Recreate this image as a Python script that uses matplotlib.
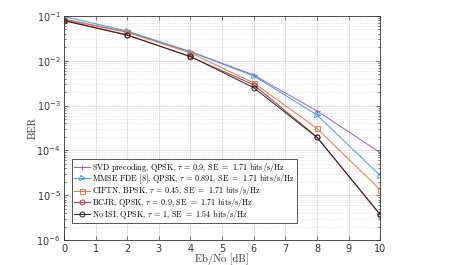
'''
BER vs Eb/No
'''

import numpy as np
import matplotlib
matplotlib.use("Agg")
import matplotlib.pyplot as plt
from matplotlib.ticker import LogLocator, NullFormatter

plt.rcParams['mathtext.fontset'] = 'cm'
plt.rcParams['axes.unicode_minus'] = False

# Data
ebno = [0, 2, 4, 6, 8, 10]
ber_svd = [0.085, 0.044, 0.016, 0.0048, 7.6e-4, 8.9e-5]
ber_mmse = [0.097, 0.046, 0.0158, 0.0046, 6.2e-4, 2.75e-5]
ber_ciftn = [0.083, 0.043, 0.015, 0.0032, 3.1e-4, 1.32e-5]
ber_bcjr = [0.080, 0.038, 0.0122, 0.0029, 2.0e-4, 3.6e-6]
ber_noisi = [0.078, 0.037, 0.0125, 0.0025, 1.95e-4, 3.75e-6]

labels = [
    r'SVD precoding, QPSK, $\tau\,=\,0.9$, SE $=$ 1.71 bits/s/Hz',
    r'MMSE FDE [8], QPSK, $\tau\,=\,0.891$, SE $=$ 1.71 bits/s/Hz',
    r'CIFTN, BPSK, $\tau\,=\,0.45$, SE $=$ 1.71 bits/s/Hz',
    r'BCJR, QPSK, $\tau\,=\,0.9$, SE $=$ 1.71 bits/s/Hz',
    r'No ISI, QPSK, $\tau\,=\,1$, SE $=$ 1.54 bits/s/Hz',
]
series = [ber_svd, ber_mmse, ber_ciftn, ber_bcjr, ber_noisi]
colors = ['#a35bc2', '#3d9ddb', '#e8763c', '#b8303f', '#222222']
markers = ['+', '>', 's', 'o', 'o']

fig = plt.figure(figsize=(4.57, 2.65), dpi=100)
ax = fig.add_axes([0.140, 0.094, 0.692, 0.846])

for y, lab, c, m in zip(series, labels, colors, markers):
    ax.semilogy(ebno, y, color=c, marker=m, markersize=3.6, markerfacecolor='none',
                markeredgewidth=0.7, linewidth=0.7, label=lab)

ax.set_xlim(0, 10)
ax.set_ylim(1e-6, 1e-1)
ax.set_xticks(range(0, 11))
ax.yaxis.set_major_locator(LogLocator(base=10, numticks=10))
ax.yaxis.set_minor_locator(LogLocator(base=10, subs=np.arange(2, 10), numticks=20))
ax.yaxis.set_minor_formatter(NullFormatter())

ax.grid(True, which='major', color='#dddddd', linewidth=0.6)
ax.grid(True, which='minor', axis='y', color='#dddddd', linestyle=':', linewidth=0.6)
ax.set_axisbelow(True)

ax.tick_params(which='both', direction='in', top=True, right=True, labelsize=7,
               colors='#333333', width=0.5, pad=2.5)
ax.tick_params(which='major', length=3)
ax.tick_params(which='minor', length=1.5)
for sp in ax.spines.values():
    sp.set_color('#333333')
    sp.set_linewidth(0.6)

ax.set_xlabel('Eb/No [dB]', family='cmr10', fontsize=7.5, labelpad=0, color='#333333')
ax.set_ylabel('BER', family='cmr10', fontsize=7.5, labelpad=-1, color='#333333')

leg = ax.legend(loc='lower left', bbox_to_anchor=(0.025, 0.076),
                prop={'family': 'cmr10', 'size': 5.8}, fancybox=False, framealpha=1,
                edgecolor='#555555', handlelength=2.0, handletextpad=0.3,
                borderpad=0.25, labelspacing=-0.15, borderaxespad=0)
leg.get_frame().set_linewidth(0.7)

fig.savefig('out.png', dpi=100)
